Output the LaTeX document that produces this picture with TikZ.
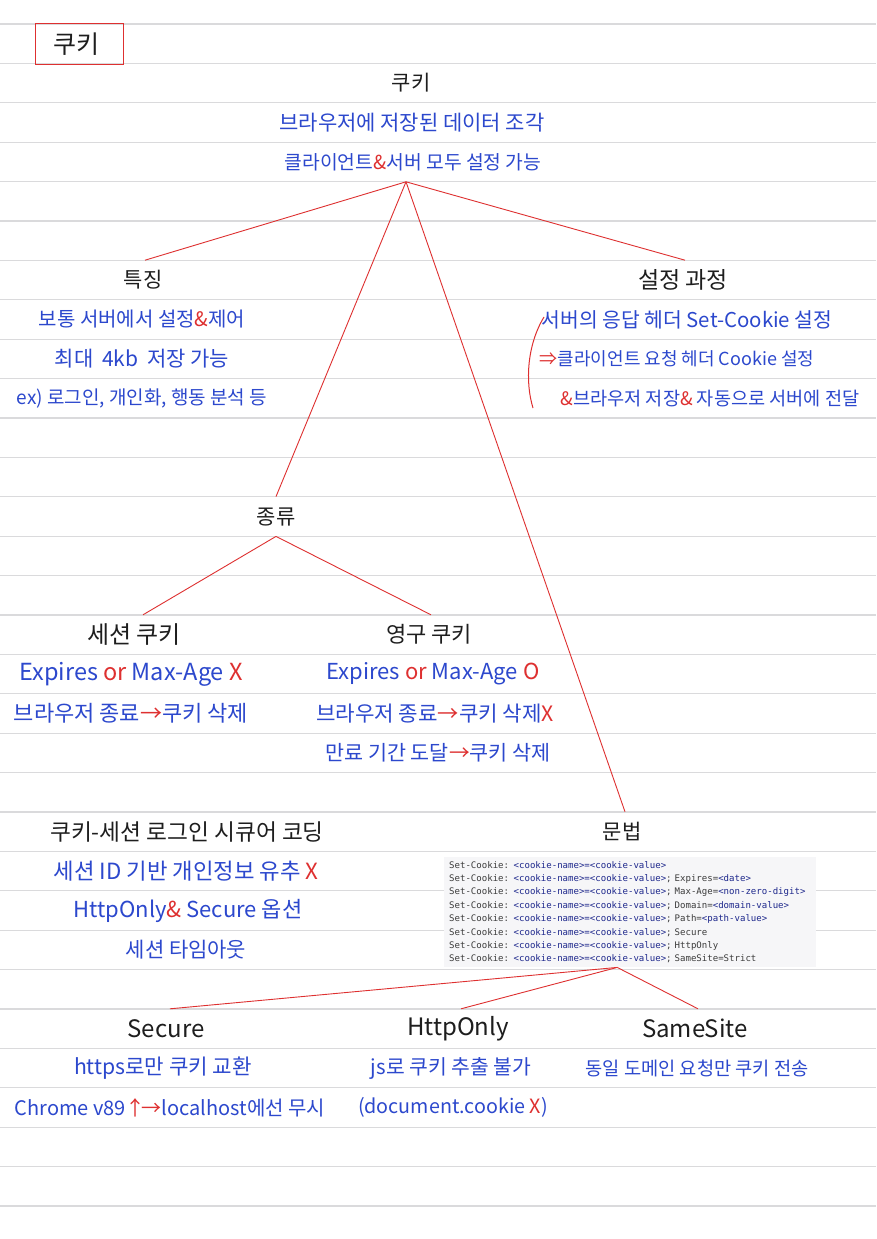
\documentclass[tikz,border=0pt]{standalone}
\usepackage{fontspec}
\setmainfont{Noto Sans CJK KR}
\newfontfamily\codefont{DejaVu Sans Mono}
\definecolor{pen}{RGB}{44,72,205}
\definecolor{penred}{RGB}{222,48,48}
\definecolor{ink}{RGB}{30,30,30}
\definecolor{rulec}{RGB}{218,218,220}
\definecolor{codebg}{RGB}{246,246,248}
\definecolor{codetxt}{RGB}{60,60,60}
\definecolor{codeblue}{RGB}{30,40,140}
\newcommand\rd[1]{\textcolor{penred}{#1}}
\newcommand\ck[1]{\textcolor{codeblue}{#1}}
\tikzset{
  rulestyle/.style={draw=rulec, line width=1.3pt},
  head/.style={text=ink, font=\fontsize{#1}{26}\selectfont, inner sep=0pt, minimum height=39.4pt},
  head/.default=21,
  txt/.style={text=pen, font=\fontsize{#1}{24}\selectfont, inner sep=0pt},
  txt/.default=19,
  conn/.style={draw=penred, line width=0.9pt},
  titlebox/.style={draw=penred, line width=1pt, minimum width=88pt, minimum height=41pt, inner sep=0pt, text=ink, font=\fontsize{25}{26}\selectfont},
  codebox/.style={fill=codebg, text=codetxt, font=\codefont\fontsize{9.05}{13.4}\selectfont, align=left, text width=362pt, inner xsep=5pt, inner ysep=3pt, minimum height=110pt, anchor=north west}
}
\begin{document}
\begin{tikzpicture}[x=1pt,y=-1pt]
\useasboundingbox (0,0) rectangle (876,1239);
\fill[white] (0,0) rectangle (876,1239);
\foreach \k in {0,...,30} {
  \draw[rulestyle] (0,{24+39.4*\k}) -- (876,{24+39.4*\k});
}
% title
\node[titlebox] (title) at (79,43.7) {\hspace*{-6pt}쿠키};
% root
\node[head] (root) at (411,83.1) {쿠키};
\node[txt=21] (rootA) at (412,122.5) {브라우저에 저장된 데이터 조각};
\node[txt=19.3, minimum height=39.4pt] (rootB) at (413,161.9) {클라이언트\rd{\&}서버 모두 설정 가능};
% features
\node[head] (feat) at (143,280.1) {특징};
\node[txt=20] (feat1) at (142,319.5) {보통 서버에서 설정\rd{\&}제어};
\node[txt=21] (feat2) at (142,358.9) {최대 \hspace{4pt}4kb\hspace{4pt} 저장 가능};
\node[txt] (feat3) at (142,398.3) {ex) 로그인, 개인화, 행동 분석 등};
% setting process
\node[head=23] (setp) at (683,280.1) {설정 과정};
\node[txt=20.4] (setp1) at (687,319.5) {서버의 응답 헤더 Set-Cookie 설정};
\node[txt=18] (setp2) at (677,358.9) {\rd{⇒}클라이언트 요청 헤더 Cookie 설정};
\node[txt=18.6] (setp3) at (710,398.3) {\rd{\&}브라우저 저장\rd{\&} 자동으로 서버에 전달};
\draw[draw=penred, line width=1pt] (544,317) .. controls (527,345) and (525,382) .. (533,408);
% kinds
\node[head] (kind) at (276,516.5) {종류};
\node[head=24] (sess) at (134,634.7) {세션 쿠키};
\node[txt=23.5] (sess1) at (131,674.1) {Expires \rd{or} Max-Age \rd{X}};
\node[txt=22] (sess2) at (131,713.5) {브라우저 종료\rd{→}쿠키 삭제};
\node[head=22] (perm) at (429,634.7) {영구 쿠키};
\node[txt=22] (perm1) at (433,674.1) {Expires \rd{or} Max-Age \rd{O}};
\node[txt=21.2] (perm2) at (435,713.5) {브라우저 종료\rd{→}쿠키 삭제\rd{X}};
\node[txt=20.7] (perm3) at (438,752.9) {만료 기간 도달\rd{→}쿠키 삭제};
% secure coding
\node[head=22.7] (secc) at (187,831.7) {쿠키-세션 로그인 시큐어 코딩};
\node[txt=22.3] (secc1) at (186,871.1) {세션 ID 기반 개인정보 유추 \rd{X}};
\node[txt=22] (secc2) at (188,910.5) {HttpOnly\rd{\&} Secure 옵션};
\node[txt=21] (secc3) at (186,949.9) {세션 타임아웃};
% syntax
\node[head] (syn) at (622,831.7) {문법};
\node[codebox] (code) at (444,857) {%
Set-Cookie: \ck{<cookie-name>=<cookie-value>}\\
Set-Cookie: \ck{<cookie-name>=<cookie-value>}; Expires=\ck{<date>}\\
Set-Cookie: \ck{<cookie-name>=<cookie-value>}; Max-Age=\ck{<non-zero-digit>}\\
Set-Cookie: \ck{<cookie-name>=<cookie-value>}; Domain=\ck{<domain-value>}\\
Set-Cookie: \ck{<cookie-name>=<cookie-value>}; Path=\ck{<path-value>}\\
Set-Cookie: \ck{<cookie-name>=<cookie-value>}; Secure\\
Set-Cookie: \ck{<cookie-name>=<cookie-value>}; HttpOnly\\
Set-Cookie: \ck{<cookie-name>=<cookie-value>}; SameSite=Strict};
% attributes
\node[head=24] (sec) at (166,1028.7) {Secure};
\node[txt=21.2] (sec1) at (163,1068.1) {https로만 쿠키 교환};
\node[txt=20] (sec2) at (170,1107.5) {Chrome v89\rd{↑\hspace{-4pt}→}localhost에선 무시};
\node[head=24] (http) at (458,1028.7) {HttpOnly};
\node[txt=20.4] (http1) at (451,1068.1) {js로 쿠키 추출 불가};
\node[txt=19.7] (http2) at (453,1107.5) {(document.cookie \rd{X})};
\node[head=24] (same) at (695,1028.7) {SameSite};
\node[txt=18.7] (same1) at (697,1068.1) {동일 도메인 요청만 쿠키 전송};
% connectors
\draw[conn] ([xshift=-7pt]rootB.south) -- ([xshift=2pt]feat.north);
\draw[conn] ([xshift=-7pt]rootB.south) -- (kind.north);
\draw[conn] ([xshift=-7pt]rootB.south) -- ([xshift=3pt]syn.north);
\draw[conn] ([xshift=-7pt]rootB.south) -- ([xshift=2pt]setp.north);
\draw[conn] (kind.south) -- ([xshift=9pt]sess.north);
\draw[conn] (kind.south) -- ([xshift=2pt]perm.north);
\draw[conn] ([xshift=-13pt]code.south) -- ([xshift=4pt]sec.north);
\draw[conn] ([xshift=-13pt]code.south) -- ([xshift=3pt]http.north);
\draw[conn] ([xshift=-13pt]code.south) -- ([xshift=3pt]same.north);
\end{tikzpicture}
\end{document}
